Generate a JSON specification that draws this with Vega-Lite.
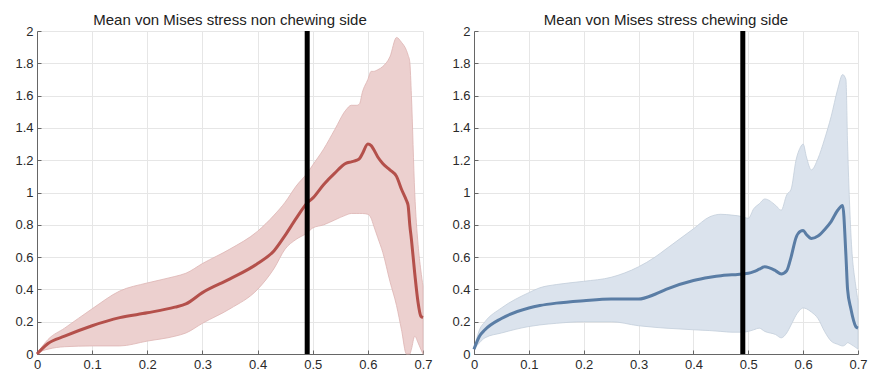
{
  "$schema": "https://vega.github.io/schema/vega-lite/v6.json",
  "padding": {"left": 7, "top": 13, "right": 0, "bottom": 5},
  "background": "white",
  "spacing": 51,
  "bounds": "flush",
  "config": {
    "view": {"stroke": null},
    "font": "Liberation Sans",
    "title": {"font": "Liberation Sans", "fontSize": 15, "fontWeight": "normal", "color": "#222", "offset": -3, "frame": "group"},
    "axis": {
      "labelFont": "Liberation Sans", "labelFontSize": 13, "labelColor": "#2a2a2a",
      "domainColor": "#666", "tickColor": "#666", "tickSize": -4, "labelPadding": 8,
      "gridColor": "#e6e6e6", "labelFlush": false, "title": null
    },
    "axisY": {"minExtent": 30, "maxExtent": 30}
  },
  "datasets": {
    "left": [
      {"x": 0, "m": 0, "lo": 0, "hi": 0},
      {"x": 0.01, "m": 0.035, "lo": 0.02, "hi": 0.05},
      {"x": 0.02, "m": 0.065, "lo": 0.03, "hi": 0.09},
      {"x": 0.05, "m": 0.11, "lo": 0.045, "hi": 0.16},
      {"x": 0.1, "m": 0.175, "lo": 0.05, "hi": 0.28},
      {"x": 0.15, "m": 0.225, "lo": 0.05, "hi": 0.39},
      {"x": 0.2, "m": 0.255, "lo": 0.08, "hi": 0.44},
      {"x": 0.25, "m": 0.29, "lo": 0.11, "hi": 0.48},
      {"x": 0.27, "m": 0.31, "lo": 0.13, "hi": 0.50},
      {"x": 0.3, "m": 0.38, "lo": 0.19, "hi": 0.56},
      {"x": 0.35, "m": 0.465, "lo": 0.28, "hi": 0.65},
      {"x": 0.4, "m": 0.56, "lo": 0.40, "hi": 0.76},
      {"x": 0.43, "m": 0.64, "lo": 0.53, "hi": 0.86},
      {"x": 0.45, "m": 0.735, "lo": 0.65, "hi": 0.94},
      {"x": 0.47, "m": 0.84, "lo": 0.71, "hi": 1.04},
      {"x": 0.49, "m": 0.935, "lo": 0.75, "hi": 1.12},
      {"x": 0.5, "m": 0.965, "lo": 0.78, "hi": 1.17},
      {"x": 0.52, "m": 1.05, "lo": 0.80, "hi": 1.27},
      {"x": 0.54, "m": 1.12, "lo": 0.83, "hi": 1.39},
      {"x": 0.56, "m": 1.18, "lo": 0.86, "hi": 1.51},
      {"x": 0.57, "m": 1.19, "lo": 0.87, "hi": 1.54},
      {"x": 0.58, "m": 1.2, "lo": 0.87, "hi": 1.54},
      {"x": 0.585, "m": 1.21, "lo": 0.87, "hi": 1.55},
      {"x": 0.59, "m": 1.24, "lo": 0.87, "hi": 1.62},
      {"x": 0.6, "m": 1.3, "lo": 0.865, "hi": 1.70},
      {"x": 0.606, "m": 1.29, "lo": 0.84, "hi": 1.75},
      {"x": 0.61, "m": 1.27, "lo": 0.80, "hi": 1.75},
      {"x": 0.618, "m": 1.22, "lo": 0.72, "hi": 1.76},
      {"x": 0.627, "m": 1.18, "lo": 0.63, "hi": 1.78},
      {"x": 0.64, "m": 1.14, "lo": 0.45, "hi": 1.84},
      {"x": 0.652, "m": 1.1, "lo": 0.30, "hi": 1.96},
      {"x": 0.661, "m": 1.02, "lo": 0.15, "hi": 1.93},
      {"x": 0.67, "m": 0.95, "lo": 0.0, "hi": 1.88},
      {"x": 0.673, "m": 0.92, "lo": 0.0, "hi": 1.85},
      {"x": 0.676, "m": 0.8, "lo": 0.0, "hi": 1.81},
      {"x": 0.679, "m": 0.71, "lo": 0.03, "hi": 1.6},
      {"x": 0.685, "m": 0.5, "lo": 0.11, "hi": 1.0},
      {"x": 0.691, "m": 0.32, "lo": 0.07, "hi": 0.68},
      {"x": 0.696, "m": 0.235, "lo": 0.03, "hi": 0.52},
      {"x": 0.7, "m": 0.225, "lo": 0.0, "hi": 0.42}
    ],
    "right": [
      {"x": 0, "m": 0.03, "lo": 0.03, "hi": 0.03},
      {"x": 0.01, "m": 0.11, "lo": 0.07, "hi": 0.15},
      {"x": 0.02, "m": 0.15, "lo": 0.10, "hi": 0.2},
      {"x": 0.05, "m": 0.22, "lo": 0.13, "hi": 0.285},
      {"x": 0.1, "m": 0.285, "lo": 0.17, "hi": 0.38},
      {"x": 0.12, "m": 0.30, "lo": 0.18, "hi": 0.41},
      {"x": 0.15, "m": 0.315, "lo": 0.19, "hi": 0.43},
      {"x": 0.2, "m": 0.33, "lo": 0.2, "hi": 0.45},
      {"x": 0.25, "m": 0.34, "lo": 0.2, "hi": 0.475},
      {"x": 0.3, "m": 0.34, "lo": 0.175, "hi": 0.54},
      {"x": 0.33, "m": 0.37, "lo": 0.165, "hi": 0.6},
      {"x": 0.35, "m": 0.40, "lo": 0.16, "hi": 0.65},
      {"x": 0.4, "m": 0.455, "lo": 0.15, "hi": 0.775},
      {"x": 0.43, "m": 0.475, "lo": 0.145, "hi": 0.85},
      {"x": 0.45, "m": 0.485, "lo": 0.14, "hi": 0.865},
      {"x": 0.47, "m": 0.49, "lo": 0.135, "hi": 0.86},
      {"x": 0.49, "m": 0.495, "lo": 0.135, "hi": 0.85},
      {"x": 0.5, "m": 0.5, "lo": 0.14, "hi": 0.84},
      {"x": 0.51, "m": 0.51, "lo": 0.15, "hi": 0.90},
      {"x": 0.52, "m": 0.525, "lo": 0.16, "hi": 0.93},
      {"x": 0.53, "m": 0.54, "lo": 0.14, "hi": 0.96},
      {"x": 0.55, "m": 0.515, "lo": 0.12, "hi": 0.92},
      {"x": 0.56, "m": 0.495, "lo": 0.10, "hi": 0.89},
      {"x": 0.57, "m": 0.515, "lo": 0.13, "hi": 0.985},
      {"x": 0.578, "m": 0.6, "lo": 0.18, "hi": 1.02},
      {"x": 0.587, "m": 0.72, "lo": 0.24, "hi": 1.2},
      {"x": 0.595, "m": 0.76, "lo": 0.275, "hi": 1.28},
      {"x": 0.6, "m": 0.765, "lo": 0.285, "hi": 1.30},
      {"x": 0.606, "m": 0.74, "lo": 0.28, "hi": 1.22},
      {"x": 0.615, "m": 0.715, "lo": 0.26, "hi": 1.14},
      {"x": 0.627, "m": 0.73, "lo": 0.22, "hi": 1.21},
      {"x": 0.639, "m": 0.77, "lo": 0.14, "hi": 1.33},
      {"x": 0.651, "m": 0.82, "lo": 0.08, "hi": 1.47},
      {"x": 0.663, "m": 0.89, "lo": 0.06, "hi": 1.64},
      {"x": 0.672, "m": 0.92, "lo": 0.05, "hi": 1.73},
      {"x": 0.678, "m": 0.61, "lo": 0.06, "hi": 1.70},
      {"x": 0.681, "m": 0.40, "lo": 0.07, "hi": 1.3},
      {"x": 0.687, "m": 0.28, "lo": 0.06, "hi": 0.75},
      {"x": 0.696, "m": 0.17, "lo": 0.04, "hi": 0.42},
      {"x": 0.7, "m": 0.16, "lo": 0.03, "hi": 0.33}
    ],
    "marker": [{"x": 0.49}]
  },
  "hconcat": [
    {
      "title": "Mean von Mises stress non chewing side",
      "width": 386, "height": 323,
      "layer": [
        {
          "data": {"name": "left"},
          "mark": {"type": "area", "color": "#ecd0cf", "opacity": 1, "interpolate": "monotone", "stroke": "#ddb4b2", "strokeWidth": 0.8},
          "encoding": {
            "x": {"field": "x", "type": "quantitative", "scale": {"domain": [0, 0.7], "nice": false},
                  "axis": {"tickCount": 7, "labelOverlap": false, "format": "~g"}},
            "y": {"field": "hi", "type": "quantitative", "scale": {"domain": [0, 2], "nice": false},
                  "axis": {"tickCount": 10, "labelOverlap": false, "format": "~g"}},
            "y2": {"field": "lo"}
          }
        },
        {
          "data": {"name": "left"},
          "mark": {"type": "line", "color": "#b4504b", "strokeWidth": 3, "interpolate": "monotone"},
          "encoding": {
            "x": {"field": "x", "type": "quantitative"},
            "y": {"field": "m", "type": "quantitative"}
          }
        },
        {
          "data": {"name": "marker"},
          "mark": {"type": "rule", "color": "#000", "strokeWidth": 5},
          "encoding": {"x": {"field": "x", "type": "quantitative"}}
        }
      ]
    },
    {
      "title": "Mean von Mises stress chewing side",
      "width": 384, "height": 323,
      "layer": [
        {
          "data": {"name": "right"},
          "mark": {"type": "area", "color": "#dbe3ed", "opacity": 1, "interpolate": "monotone", "stroke": "#c3cedb", "strokeWidth": 0.8},
          "encoding": {
            "x": {"field": "x", "type": "quantitative", "scale": {"domain": [0, 0.7], "nice": false},
                  "axis": {"tickCount": 7, "labelOverlap": false, "format": "~g"}},
            "y": {"field": "hi", "type": "quantitative", "scale": {"domain": [0, 2], "nice": false},
                  "axis": {"tickCount": 10, "labelOverlap": false, "format": "~g"}},
            "y2": {"field": "lo"}
          }
        },
        {
          "data": {"name": "right"},
          "mark": {"type": "line", "color": "#5a7da5", "strokeWidth": 3, "interpolate": "monotone"},
          "encoding": {
            "x": {"field": "x", "type": "quantitative"},
            "y": {"field": "m", "type": "quantitative"}
          }
        },
        {
          "data": {"name": "marker"},
          "mark": {"type": "rule", "color": "#000", "strokeWidth": 5},
          "encoding": {"x": {"field": "x", "type": "quantitative"}}
        }
      ]
    }
  ]
}
